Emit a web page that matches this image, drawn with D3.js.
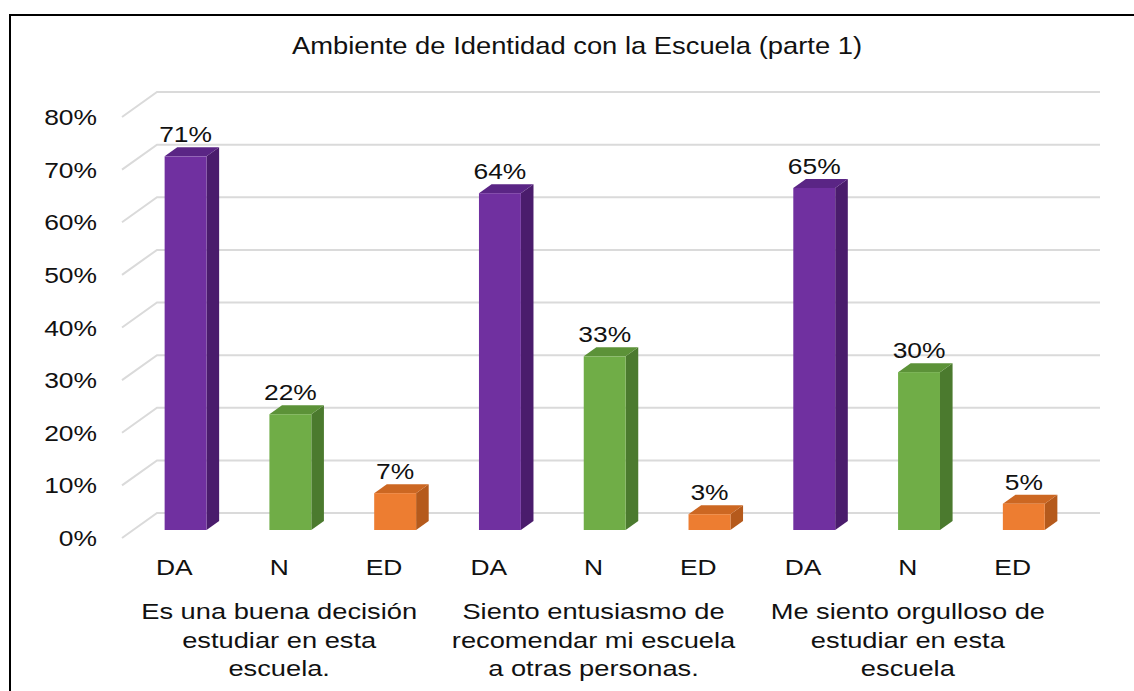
<!DOCTYPE html>
<html>
<head>
<meta charset="utf-8">
<script src="https://cdn.jsdelivr.net/npm/d3@7"></script>
<style>
  html, body { margin: 0; padding: 0; background: #fff; }
  svg { display: block; }
  text { font-family: "Liberation Sans", Arial, sans-serif; fill: #111; }
</style>
</head>
<body>
<svg id="chart" width="1134" height="691"></svg>
<script>
// ---- Data ----
const chartTitle = "Ambiente de Identidad con la Escuela (parte 1)";
const responses = ["DA", "N", "ED"];
const groupLabels = [
  ["Es una buena decisión", "estudiar en esta", "escuela."],
  ["Siento entusiasmo de", "recomendar mi escuela", "a otras personas."],
  ["Me siento orgulloso de", "estudiar en esta", "escuela"]
];
const valuesDA = [71, 64, 65];
const valuesN  = [22, 33, 30];
const valuesED = [7, 3, 5];
const yTicks = [0, 10, 20, 30, 40, 50, 60, 70, 80];
const seriesColors = {
  DA: { front: "#7030A0", side: "#4A1C6C", top: "#5A2585" },
  N:  { front: "#70AD47", side: "#4B7A2E", top: "#5C9238" },
  ED: { front: "#ED7D31", side: "#B55A1C", top: "#CC6722" }
};

// ---- Layout ----
const svg = d3.select("#chart");
const DX = 35, DY = -25;          // depth vector of the floor
const d0 = 0.32, d1 = 0.68;       // bar depth (front, back) as fraction
const SX = 1.2;                   // horizontal text stretch

const seriesByResp = { DA: valuesDA, N: valuesN, ED: valuesED };
const items = [];
groupLabels.forEach((g, gi) => {
  responses.forEach(r => items.push({ key: gi + "-" + r, group: gi, resp: r, value: seriesByResp[r][gi] }));
});

const x = d3.scaleBand().domain(items.map(d => d.key)).range([122, 1065]).padding(0);
const y = d3.scaleLinear().domain([0, 80]).range([538, 117]);

// border
svg.append("rect").attr("x", 10).attr("y", 15).attr("width", 1140).attr("height", 700)
  .attr("fill", "none").attr("stroke", "#000").attr("stroke-width", 2);

function stretchedText(sel, tx, ty, str, size, anchor, sx) {
  return sel.append("text")
    .attr("transform", `translate(${tx},${ty}) scale(${sx},1)`)
    .attr("text-anchor", anchor)
    .style("font-size", size + "px")
    .text(str);
}
// title
stretchedText(svg, 577, 54, chartTitle, 24, "middle", 1.14);

// gridlines (side diagonal + back wall)
const grid = svg.append("g");
yTicks.forEach(t => {
  const yf = y(t);
  grid.append("path")
    .attr("d", `M${x.range()[0]},${yf} L${x.range()[0] + DX},${yf + DY} L${x.range()[1] + DX},${yf + DY}`)
    .attr("fill", "none").attr("stroke", "#dadada").attr("stroke-width", 2);
});

// y tick labels
const yAxis = svg.append("g");
yTicks.forEach(t => {
  stretchedText(yAxis, 97, y(t) + 8, t + "%", 22, "end", SX);
});

// bars
const bw = x.bandwidth() * 0.4;
const bars = svg.append("g");
items.forEach(d => {
  const c = seriesColors[d.resp];
  const cx = x(d.key) + x.bandwidth() / 2;
  const xl = cx - bw / 2 + DX * d0;
  const xr = xl + bw;
  const yt = y(d.value) + DY * d0;
  const yb = y(0) + DY * d0;
  const ddx = DX * (d1 - d0), ddy = DY * (d1 - d0);
  const g = bars.append("g");
  g.append("polygon")
    .attr("points", [[xr, yt], [xr + ddx, yt + ddy], [xr + ddx, yb + ddy], [xr, yb]].map(p => p.join(",")).join(" "))
    .attr("fill", c.side);
  g.append("polygon")
    .attr("points", [[xl, yt], [xr, yt], [xr + ddx, yt + ddy], [xl + ddx, yt + ddy]].map(p => p.join(",")).join(" "))
    .attr("fill", c.top);
  g.append("rect").attr("x", xl).attr("y", yt).attr("width", bw).attr("height", yb - yt)
    .attr("fill", c.front);
  // value label
  stretchedText(g, cx + DX * d0, yt + ddy - 5, d.value + "%", 22, "middle", SX);
});

// category labels
const xAxis = svg.append("g");
items.forEach(d => {
  stretchedText(xAxis, x(d.key) + x.bandwidth() / 2, 575, d.resp, 22, "middle", SX);
});
groupLabels.forEach((lines, gi) => {
  const mid = x(gi + "-N") + x.bandwidth() / 2;
  lines.forEach((ln, li) => {
    stretchedText(xAxis, mid, 619 + li * 28.5, ln, 22, "middle", 1.24);
  });
});
</script>
</body>
</html>
